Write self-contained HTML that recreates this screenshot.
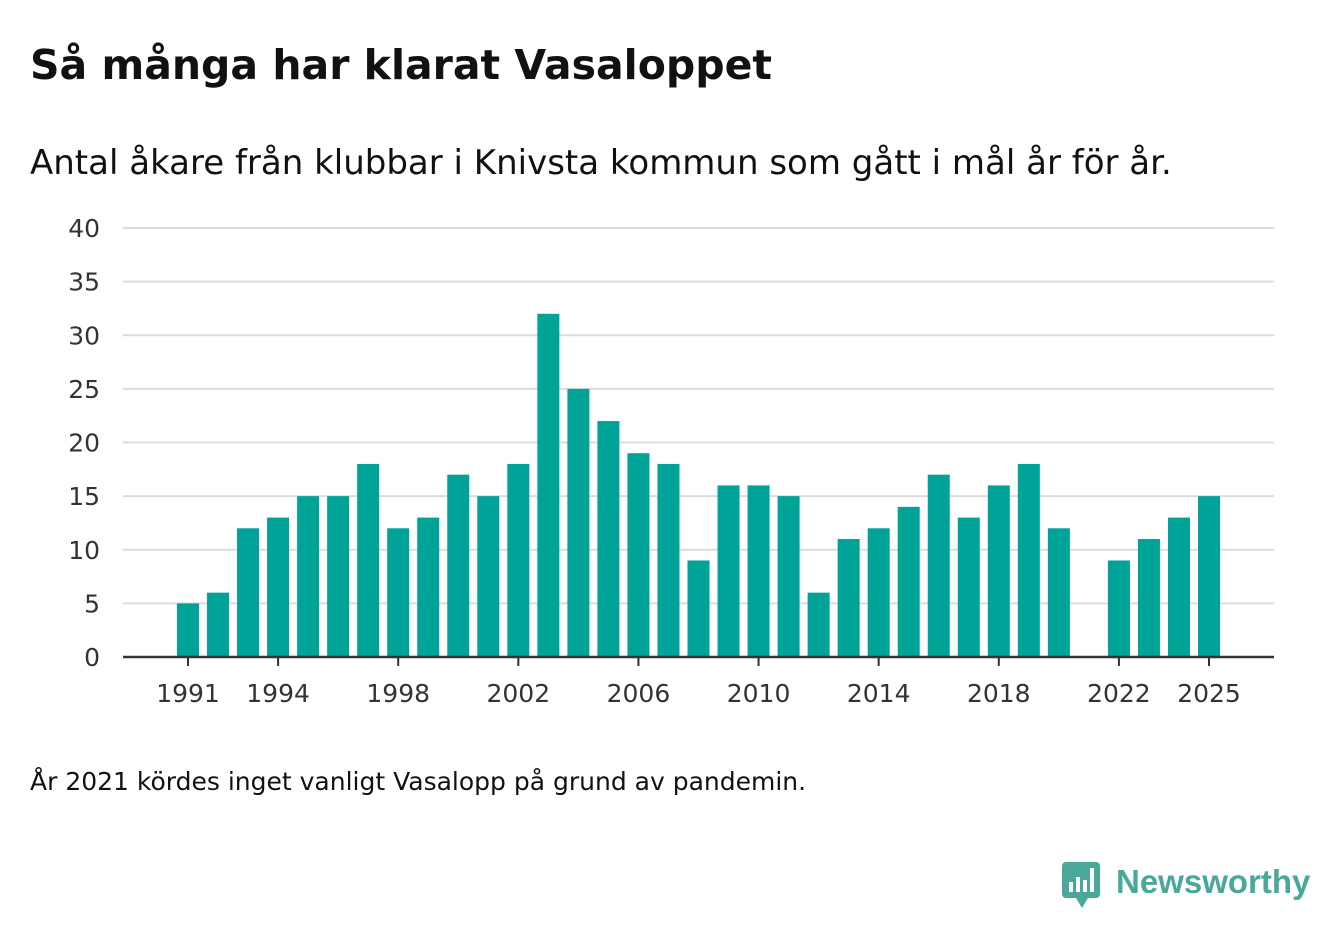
<!DOCTYPE html>
<html><head><meta charset="utf-8"><style>
body{margin:0;width:1340px;height:940px;background:#fff;font-family:"DejaVu Sans","Liberation Sans",sans-serif;color:#111;position:relative;overflow:hidden}
.t{position:absolute;left:30px;white-space:nowrap}
</style></head><body>
<div class="t" style="top:41px;font-size:41px;font-weight:bold">Så många har klarat Vasaloppet</div>
<div class="t" style="top:143px;font-size:34px">Antal åkare från klubbar i Knivsta kommun som gått i mål år för år.</div>
<svg id="chart" width="1340" height="740" style="position:absolute;left:0;top:0"></svg>
<div class="t" style="top:767px;font-size:25px">År 2021 kördes inget vanligt Vasalopp på grund av pandemin.</div>
<div style="position:absolute;left:1062px;top:862px;display:flex;align-items:center">
<svg width="40" height="48"><rect x="0" y="0" width="38" height="36" rx="4" fill="#4aa89a"/><polygon points="14,36 20,46 26,36" fill="#4aa89a"/><rect x="7" y="20" width="4" height="10" fill="#fff"/><rect x="14" y="15" width="4" height="15" fill="#fff"/><rect x="21" y="18" width="4" height="12" fill="#fff"/><rect x="28" y="6" width="4" height="24" fill="#fff"/></svg>
<span style="font-family:'Liberation Sans',sans-serif;font-size:33px;font-weight:bold;color:#4aa89a;margin-left:14px;margin-top:-8px">Newsworthy</span></div>
<script>
const years=[1991,1992,1993,1994,1995,1996,1997,1998,1999,2000,2001,2002,2003,2004,2005,2006,2007,2008,2009,2010,2011,2012,2013,2014,2015,2016,2017,2018,2019,2020,2021,2022,2023,2024,2025];
const values=[5,6,12,13,15,15,18,12,13,17,15,18,32,25,22,19,18,9,16,16,15,6,11,12,14,17,13,16,18,12,0,9,11,13,15];
const yTicks=[0,5,10,15,20,25,30,35,40];
const xTickYears=[1991,1994,1998,2002,2006,2010,2014,2018,2022,2025];
const svg=document.getElementById('chart');const NS='http://www.w3.org/2000/svg';
const x=y=>188+(y-1991)*(1209-188)/34;
const yS=v=>657-v*(657-228)/40;
function mk(t,a){const e=document.createElementNS(NS,t);for(const k in a)e.setAttribute(k,a[k]);svg.appendChild(e);return e;}
yTicks.forEach(v=>{
 if(v>0){const g=mk('line',{x1:123,x2:1274,y1:yS(v),y2:yS(v),stroke:'#dcdcdc','stroke-width':2});
 
 }
 const t=mk('text',{x:100,y:yS(v)+9,'text-anchor':'end','font-size':25,fill:'#333','font-family':'DejaVu Sans, sans-serif'});t.textContent=v;
 
 
});
years.forEach((yr,i)=>{if(values[i]<=0)return;
 const r=mk('rect',{x:x(yr)-11,y:yS(values[i]),width:22,height:657-yS(values[i]),fill:'#00a398'});
 
 
});
const ax=mk('line',{x1:123,x2:1274,y1:657,y2:657,stroke:'#333','stroke-width':2.5});


xTickYears.forEach(yr=>{
 const l=mk('line',{x1:x(yr),x2:x(yr),y1:657,y2:666,stroke:'#333','stroke-width':2});
 
 
 const t=mk('text',{x:x(yr),y:702,'text-anchor':'middle','font-size':25,fill:'#333','font-family':'DejaVu Sans, sans-serif'});t.textContent=yr;
 
 
});
</script>
</body></html>
